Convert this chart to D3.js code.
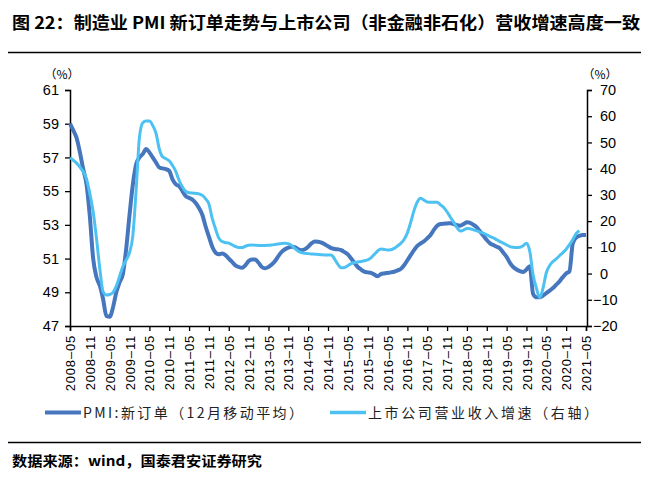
<!DOCTYPE html>
<html><head><meta charset="utf-8">
<script src="https://cdn.jsdelivr.net/npm/d3@7/dist/d3.min.js"></script>
<style>body{margin:0;background:#fff}svg{display:block}</style>
</head><body>
<svg id="c" width="655" height="479"></svg>
<script>
const titleText = "图 22：制造业 PMI 新订单走势与上市公司（非金融非石化）营收增速高度一致";
const sourceText = "数据来源：wind，国泰君安证券研究";
const seriesNames = ["PMI:新订单（12月移动平均）", "上市公司营业收入增速（右轴）"];
const startMonth = "2008-05";
const tickLabels = ["2008-05","2008-11","2009-05","2009-11","2010-05","2010-11","2011-05","2011-11","2012-05","2012-11","2013-05","2013-11","2014-05","2014-11","2015-05","2015-11","2016-05","2016-11","2017-05","2017-11","2018-05","2018-11","2019-05","2019-11","2020-05","2020-11","2021-05"];
const leftTicks = [47,49,51,53,55,57,59,61];
const rightTicks = [-20,-10,0,10,20,30,40,50,60,70];
// PMI new orders, 12-month moving average, monthly from 2008-05 to 2021-05
const pmi = [59.0,58.6,58.15,57.3,56.3,55.4,53.5,51.0,49.9,49.4,48.6,47.6,47.55,48.1,49.0,49.6,50.1,51.6,53.6,55.4,
56.6,57.0,57.2,57.5,57.3,57.0,56.7,56.4,56.35,56.3,56.2,55.7,55.4,55.3,55.0,54.7,54.6,54.5,54.3,54.0,
53.6,52.9,52.3,51.7,51.35,51.25,51.3,51.2,51.0,50.8,50.6,50.5,50.45,50.6,50.85,50.95,50.95,50.75,50.5,50.42,
50.5,50.65,50.85,51.15,51.4,51.55,51.65,51.7,51.68,51.55,51.5,51.55,51.7,51.9,52.02,52.0,51.95,51.85,51.73,51.62,
51.57,51.55,51.5,51.38,51.25,51.0,50.75,50.5,50.35,50.22,50.18,50.15,50.05,49.95,50.08,50.12,50.15,50.18,50.22,50.3,
50.38,50.6,50.9,51.2,51.5,51.75,51.9,52.02,52.2,52.4,52.7,52.95,53.05,53.07,53.08,53.1,53.05,52.98,52.95,53.05,
53.15,53.12,53.0,52.85,52.6,52.35,52.1,51.9,51.8,51.7,51.6,51.35,51.1,50.75,50.5,50.35,50.25,50.2,50.35,50.55,
48.9,48.7,48.7,48.8,48.95,49.1,49.25,49.45,49.65,49.9,50.12,50.25,51.9,52.25,52.35,52.4,52.4];
// Listed companies revenue growth (right axis), monthly from 2008-05 to 2021-03
const revenue = [44.2,43.2,42.1,40.6,38.9,36.0,30.5,23.6,13.5,2.0,-6.9,-8.2,-8.0,-7.2,-4.8,-1.0,2.8,5.2,8.0,14.5,
32.0,52.0,57.5,58.2,58.2,56.5,53.5,47.5,44.5,43.8,43.0,41.2,38.9,35.5,33.0,31.3,30.8,30.7,30.6,30.4,
29.8,28.5,26.5,21.0,17.0,13.5,12.2,11.8,11.6,11.0,10.3,9.9,9.9,10.4,10.8,10.9,10.8,10.7,10.7,10.7,
10.8,10.9,11.1,11.3,11.5,11.6,11.4,10.7,9.5,8.5,8.0,7.7,7.6,7.5,7.4,7.3,7.2,7.1,7.1,7.1,
5.5,3.5,2.2,2.3,3.0,3.8,4.2,4.4,4.6,4.9,5.2,6.0,7.3,8.6,9.4,9.2,9.0,9.1,9.6,10.5,
11.5,13.0,15.5,19.5,24.0,27.3,28.7,28.0,27.3,27.2,27.2,27.2,26.2,25.2,23.5,21.5,19.5,17.5,16.2,16.6,
17.2,17.1,16.7,16.3,15.8,15.4,14.8,14.1,13.6,12.9,12.2,11.6,10.9,10.3,10.0,9.9,10.0,10.6,11.6,8.5,
-0.5,-5.5,-9.2,-5.6,0.3,3.0,4.6,5.6,6.8,8.0,9.3,11.0,13.0,15.2,16.3];

const parse = d3.timeParse("%Y-%m");
const fmt = d3.timeFormat("%Y-%m");
const t0 = parse(startMonth);
const months = d3.range(pmi.length).map(i => fmt(d3.timeMonth.offset(t0, i)));

const svg = d3.select("#c");
const W = 655;
const dark = "#4677BE", light = "#4DC2F2";
const cjk = "'Noto Sans CJK SC','Noto Sans',sans-serif";
const lat = "'Liberation Sans',Arial,sans-serif";

// title & rules
svg.append("text").attr("x", 12).attr("y", 29).attr("font-family", cjk).attr("font-weight", "bold")
  .attr("font-size", 17).attr("fill", "#000").attr("textLength", 628).attr("lengthAdjust", "spacingAndGlyphs").text(titleText);
svg.append("line").attr("x1", 8).attr("x2", 641).attr("y1", 52.5).attr("y2", 52.5).attr("stroke", "#000").attr("stroke-width", 1.3);
svg.append("line").attr("x1", 8).attr("x2", 641).attr("y1", 442.5).attr("y2", 442.5).attr("stroke", "#000").attr("stroke-width", 1.3);
svg.append("text").attr("x", 12).attr("y", 466).attr("font-family", cjk).attr("font-weight", "bold")
  .attr("font-size", 14).attr("fill", "#000").attr("textLength", 250).attr("lengthAdjust", "spacingAndGlyphs").text(sourceText);

const x = d3.scaleLinear().domain([0, months.length - 1]).range([70, 586]);
const yL = d3.scaleLinear().domain([47, 61]).range([326, 90]);
const yR = d3.scaleLinear().domain([-20, 70]).range([326, 90]);

// axes
const axL = svg.append("g").attr("transform", "translate(70,0)")
  .call(d3.axisLeft(yL).tickValues(leftTicks).tickSize(5).tickPadding(6).tickFormat(d3.format("d")));
const axR = svg.append("g").attr("transform", "translate(587,0)")
  .call(d3.axisRight(yR).tickValues(rightTicks).tickSize(5).tickPadding(8).tickFormat(d => d < 0 ? "\u2212" + Math.abs(d) : d));
const tickIdx = tickLabels.map(l => months.indexOf(l));
const axB = svg.append("g").attr("transform", "translate(0,326)")
  .call(d3.axisBottom(x).tickValues(tickIdx).tickSize(5).tickFormat(i => months[i].replace("-", "\u2013")));
[axL, axR, axB].forEach(g => {
  g.select(".domain").attr("stroke", "#000").attr("stroke-width", 1.5);
  g.selectAll(".tick line").attr("stroke", "#000").attr("stroke-width", 1.3);
  g.selectAll("text").attr("font-family", lat).attr("fill", "#000");
});
axL.selectAll("text").attr("font-size", 14.5);
axR.selectAll("text").attr("font-size", 14.5);
axR.selectAll(".tick text").attr("dx", d => d < 0 ? -7 : 0);
axB.selectAll(".tick text").attr("font-size", 13).attr("letter-spacing", 0.8)
  .attr("transform", "rotate(-90)").attr("text-anchor", "end").attr("dy", "0.35em").attr("x", -9).attr("y", 0);

svg.append("text").attr("x", 62).attr("y", 79).attr("text-anchor", "middle").attr("font-family", cjk).attr("font-size", 12).text("（%）");
svg.append("text").attr("x", 600).attr("y", 79).attr("text-anchor", "middle").attr("font-family", cjk).attr("font-size", 12).text("（%）");

// lines
const lineL = d3.line().x((d, i) => x(i)).y(d => yL(d)).curve(d3.curveMonotoneX);
const lineR = d3.line().x((d, i) => x(i)).y(d => yR(d)).curve(d3.curveMonotoneX);
svg.append("path").datum(pmi).attr("d", lineL).attr("fill", "none").attr("stroke", dark).attr("stroke-width", 4).attr("stroke-linejoin", "round");
svg.append("path").datum(revenue).attr("d", lineR).attr("fill", "none").attr("stroke", light).attr("stroke-width", 3).attr("stroke-linejoin", "round");

// legend
const leg = [{x: 45, c: dark, w: 4, tl: 220}, {x: 330, c: light, w: 3.5, tl: 230}];
leg.forEach((l, i) => {
  svg.append("line").attr("x1", l.x).attr("x2", l.x + 36).attr("y1", 412.5).attr("y2", 412.5).attr("stroke", l.c).attr("stroke-width", l.w);
  svg.append("text").attr("x", l.x + 38).attr("y", 418).attr("font-family", cjk).attr("font-size", 14).attr("fill", "#222")
    .attr("textLength", l.tl).attr("lengthAdjust", "spacing").text(seriesNames[i]);
});
</script>
</body></html>
